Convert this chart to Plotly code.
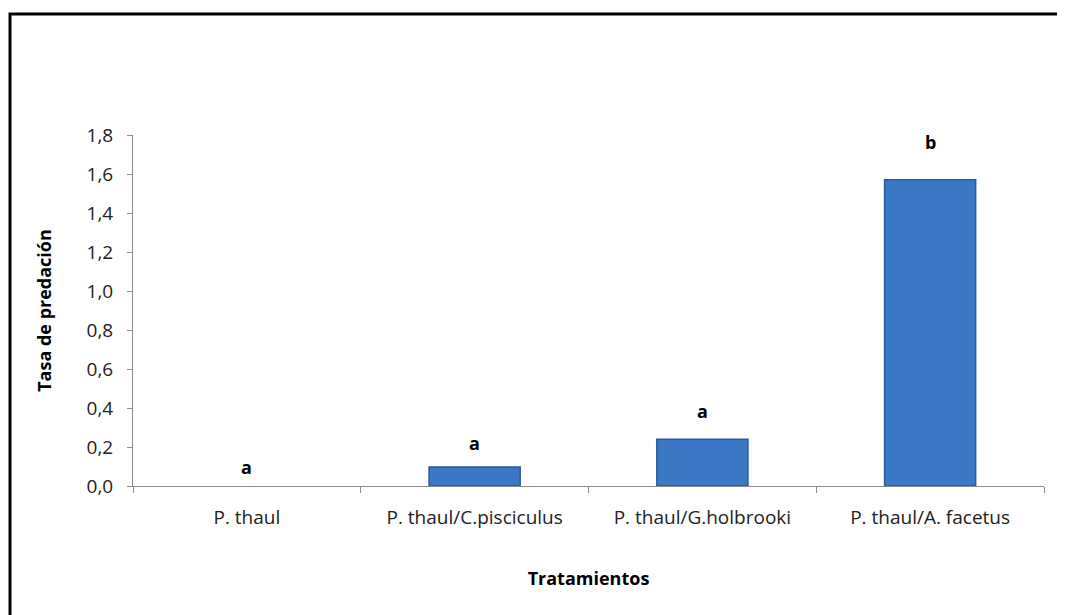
import plotly.graph_objects as go

categories = ["P. thaul", "P. thaul/C.pisciculus", "P. thaul/G.holbrooki", "P. thaul/A. facetus"]
values = [0.0, 0.097, 0.24, 1.57]
letters = ["a", "a", "a", "b"]
letter_y = [0.10, 0.22, 0.385, 1.765]
y_ticks = [0.0, 0.2, 0.4, 0.6, 0.8, 1.0, 1.2, 1.4, 1.6, 1.8]

FONT = "Open Sans, Liberation Sans, sans-serif"

fig = go.Figure()
fig.add_trace(go.Bar(
    x=categories, y=values, width=0.4,
    marker=dict(color="#3B78C6",
                line=dict(color="#2C5A94", width=[0 if v == 0 else 1.5 for v in values])),
    showlegend=False, hoverinfo="skip",
))

for c, l, ly in zip(categories, letters, letter_y):
    fig.add_annotation(x=c, y=ly, xref="x", yref="y", text="<b>" + l + "</b>",
                       showarrow=False, font=dict(family=FONT, size=18, color="black"),
                       yanchor="middle")

# outer frame
fig.add_shape(type="rect", xref="paper", yref="paper",
              x0=-0.135, x1=1.2, y0=-0.6, y1=1.3447,
              line=dict(color="black", width=3), fillcolor="rgba(0,0,0,0)", layer="below")

fig.update_layout(
    width=1065, height=615,
    margin=dict(l=125, r=29, t=127, b=137),
    paper_bgcolor="white", plot_bgcolor="white",
    separators=",.",
    font=dict(family=FONT, size=19, color="#222222"),
    bargap=0.6,
    xaxis=dict(
        showline=True, linecolor="#8C8C8C", linewidth=1,
        ticks="outside", tickson="boundaries", ticklen=6, tickcolor="#8C8C8C",
        showgrid=False, zeroline=False, ticklabelstandoff=14,
        tickfont=dict(family=FONT, size=19, color="#222222"),
        title=dict(text="<b>Tratamientos</b>", font=dict(family=FONT, size=18, color="black"), standoff=43),
    ),
    yaxis=dict(
        range=[0, 1.8], tickvals=y_ticks, tickformat=".1f",
        showline=True, linecolor="#8C8C8C", linewidth=1,
        ticks="outside", ticklen=5, tickcolor="#8C8C8C",
        showgrid=False, zeroline=False, ticklabelstandoff=10,
        tickfont=dict(family=FONT, size=19, color="#222222"),
        title=dict(text="<b>Tasa de predación</b>", font=dict(family=FONT, size=18, color="black"), standoff=30),
    ),
)

fig.write_html("out.html")
